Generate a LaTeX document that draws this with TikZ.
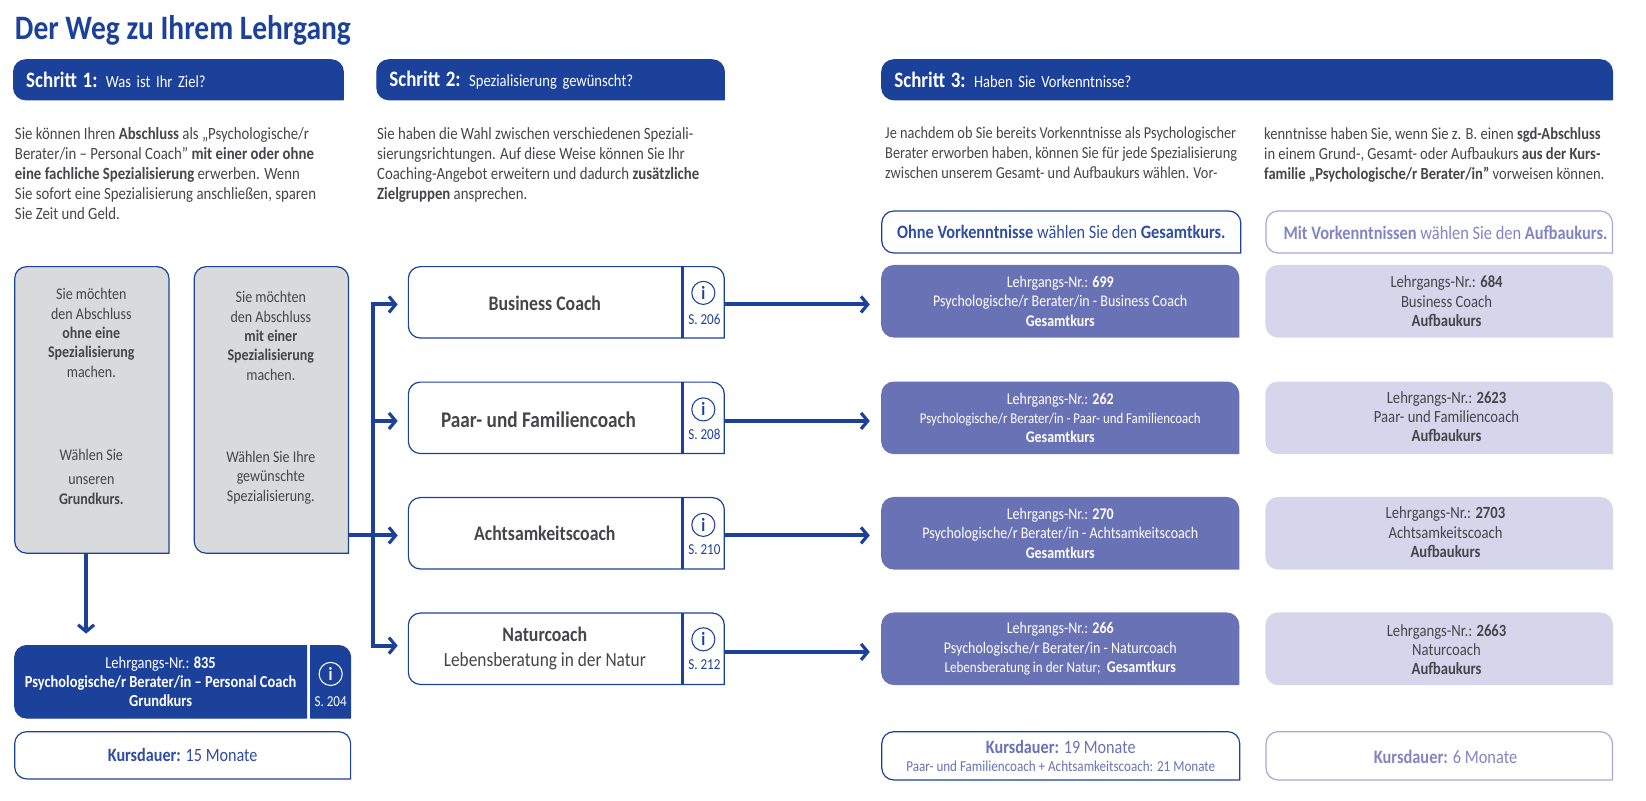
\documentclass[tikz,border=0pt]{standalone}
\usepackage{fontspec}
\setmainfont[FakeStretch=0.86]{Carlito}
\usepackage{tikz}
\usetikzlibrary{arrows.meta}
\newcommand{\px}{0.7873pt}
\newcommand{\fsz}[1]{\fontsize{#1}{#1}\selectfont}
\definecolor{sgdblue}{HTML}{1C419B}
\definecolor{sgdviolet}{HTML}{6A72B6}
\definecolor{sgdpale}{HTML}{D5D6EC}
\definecolor{sgdlilac}{HTML}{A7A9D8}
\definecolor{sgdmute}{HTML}{8285C4}
\definecolor{sgdgrey}{HTML}{D9DADC}
\definecolor{sgdtext}{HTML}{46464A}
\tikzset{
  wh/.style 2 args={minimum width=#1*\px,minimum height=#2*\px},
  tile/.style n args={6}{append after command={\pgfextra{
    \draw[draw=#1,fill=#2,line width=0.9pt,line join=miter] (\tikzlastnode.south)
      [rounded corners=#6] -- (\tikzlastnode.south west)
      [rounded corners=#3] -- (\tikzlastnode.north west)
      [rounded corners=#4] -- (\tikzlastnode.north east)
      [rounded corners=#5] -- (\tikzlastnode.south east)
      [sharp corners] -- cycle;
  }}},
  tab/.style 2 args={tile={#1}{#2}{9pt}{9pt}{0.01pt}{9pt}},
  panel/.style={anchor=north west,rectangle,inner sep=0pt,outer sep=0pt,align=center},
  head/.style={panel,tab={sgdblue}{sgdblue},text=white,align=left,
    text width=#1*\px-24*\px,inner xsep=12*\px,minimum height=38*\px,font=\fontsize{12.7}{14}\selectfont},
  body/.style={anchor=north west,inner sep=0pt,align=left,text=sgdtext,font=\fontsize{12.9}{15}\selectfont},
  askbox/.style={panel,tab={sgdblue}{sgdgrey},wh={147}{273}},
  asktext/.style={inner sep=0pt,align=center,text=sgdtext,font=\fontsize{12.2}{14.5}\selectfont},
  coach/.style={panel,tab={sgdblue}{white},wh={301}{68}},
  coachtext/.style={inner sep=0pt,align=center,text=sgdtext,font=\fontsize{15.5}{18}\selectfont},
  infoicon/.style={circle,draw=sgdblue,line width=0.8pt,inner sep=0pt,minimum size=22*\px,text=sgdblue,font=\bfseries\fontsize{14}{14}\selectfont},
  pagenr/.style={inner sep=0pt,text=sgdblue,font=\fontsize{11.4}{12}\selectfont},
  gesamt/.style={panel,tab={sgdviolet}{sgdviolet},wh={340}{68},text=white,font=\fontsize{12.2}{14.5}\selectfont},
  aufbau/.style={panel,tab={sgdpale}{sgdpale},wh={330}{68}},
  aufbautext/.style={inner sep=0pt,align=center,text=sgdtext,font=\fontsize{12.8}{14.5}\selectfont},
  mutetext/.style={inner sep=0pt,align=center,text=sgdmute,font=\fontsize{14.3}{16}\selectfont},
  flow/.style={draw=sgdblue,line width=3pt,-{Straight Barb[length=5pt,width=12pt,line width=2.4pt]}},
  trunk/.style={draw=sgdblue,line width=3pt,line cap=rect},
  divider/.style={draw=sgdblue,line width=2.4pt}
}
\begin{document}
\begin{tikzpicture}[x=0.7873pt,y=-0.7873pt]
  \useasboundingbox (0,0) rectangle (1568,763);

  \node[anchor=west,inner sep=0pt,text=sgdblue,font=\bfseries\fontsize{25.7}{30}\selectfont] (title) at (14,29) {Der Weg zu Ihrem Lehrgang};

  % step headers
  \node[head=314] (head1) at (13,57) {{\bfseries\fsz{16.5}Schritt 1:} Was ist Ihr Ziel?};
  \node[head=331] (head2) at (359,57) {{\bfseries\fsz{16.5}Schritt 2:} Spezialisierung gewünscht?};
  \node[head=696] (head3) at (840,57) {{\bfseries\fsz{16.5}Schritt 3:} Haben Sie Vorkenntnisse?};

  % intro texts
  \node[body] (intro1) at (14,121) {Sie können Ihren \textbf{Abschluss} als „Psychologische/r\\
    Berater/in – Personal Coach" \textbf{mit einer oder ohne}\\
    \textbf{eine fachliche Spezialisierung} erwerben. Wenn\\
    Sie sofort eine Spezialisierung anschließen, sparen\\
    Sie Zeit und Geld.};
  \node[body] (intro2) at (359,121) {Sie haben die Wahl zwischen verschiedenen Speziali-\\
    sierungsrichtungen. Auf diese Weise können Sie Ihr\\
    Coaching-Angebot erweitern und dadurch \textbf{zusätzliche}\\
    \textbf{Zielgruppen} ansprechen.};
  \node[body,font=\fontsize{12.5}{15}\selectfont] (intro3) at (843,121) {Je nachdem ob Sie bereits Vorkenntnisse als Psychologischer\\
    Berater erworben haben, können Sie für jede Spezialisierung\\
    zwischen unserem Gesamt- und Aufbaukurs wählen. Vor-};
  \node[body,font=\fontsize{12.7}{15}\selectfont] (intro4) at (1204,121) {kenntnisse haben Sie, wenn Sie z. B. einen \textbf{sgd-Abschluss}\\
    in einem Grund-, Gesamt- oder Aufbaukurs \textbf{aus der Kurs-}\\
    \textbf{familie „Psychologische/r Berater/in"} vorweisen können.};

  % column captions
  \node[panel,tab={sgdblue}{white},wh={342}{40},text=sgdblue!75!sgdviolet,font=\fontsize{14.2}{16}\selectfont] (ohnecap) at (840,201) {\textbf{Ohne Vorkenntnisse} wählen Sie den \textbf{Gesamtkurs.}};
  \node[panel,tab={sgdlilac}{white},wh={330}{40}] (mitcap) at (1206,201) {};
  \node[mutetext] (mittext) at (1377,222) {\textbf{Mit Vorkenntnissen} wählen Sie den \textbf{Aufbaukurs.}};

  % choice boxes
  \node[askbox] (ohne) at (14,254) {};
  \node[askbox] (mit) at (185,254) {};
  \node[asktext] (ohnetop) at (87,317) {Sie möchten\\den Abschluss\\\textbf{ohne eine}\\\textbf{Spezialisierung}\\machen.};
  \node[asktext] (ohnelow) at (87,454) {Wählen Sie\\[4pt]unseren\\\textbf{Grundkurs.}};
  \node[asktext] (mittop) at (258,320) {Sie möchten\\den Abschluss\\\textbf{mit einer}\\\textbf{Spezialisierung}\\machen.};
  \node[asktext] (mitlow) at (258,455) {Wählen Sie Ihre\\gewünschte\\Spezialisierung.};

  % basic course
  \node[panel,tile={sgdblue}{sgdblue}{9pt}{0.01pt}{0.01pt}{9pt},wh={278}{69},text=white,font=\fontsize{12.6}{14.5}\selectfont] (g835) at (14,615) {Lehrgangs-Nr.: \textbf{835}\\\textbf{Psychologische/r Berater/in – Personal Coach}\\\textbf{Grundkurs}};
  \node[panel,tile={sgdblue}{sgdblue}{0.01pt}{9pt}{0.01pt}{0.01pt},wh={38}{69}] (g835i) at (296,615) {};
  \node[infoicon,draw=white,text=white] (i204) at (315,642) {i};
  \node[pagenr,text=white] (s204) at (315,668) {S. 204};
  \node[panel,tab={sgdblue}{white},wh={320}{45},text=sgdblue!75!sgdviolet,font=\fontsize{14.1}{16}\selectfont] (dauer1) at (14,697) {\raisebox{-1.5pt}{\textbf{Kursdauer:} 15 Monate}};

  % specialisations
  \node[coach] (bc) at (389,254) {};
  \node[coachtext] (bctext) at (519,289) {\textbf{Business Coach}};
  \draw[divider] (bc.north west -| 650,0) -- (bc.south west -| 650,0);
  \node[infoicon] (i206) at (670,279) {i};
  \node[pagenr] (s206) at (671,304) {S. 206};

  \node[coach] (pf) at (389,364) {};
  \node[coachtext,font=\fontsize{16.8}{18}\selectfont] (pftext) at (513,400) {\textbf{Paar- und Familiencoach}};
  \draw[divider] (pf.north west -| 650,0) -- (pf.south west -| 650,0);
  \node[infoicon] (i208) at (670,390) {i};
  \node[pagenr] (s208) at (671,414) {S. 208};

  \node[coach] (ac) at (389,474) {};
  \node[coachtext] (actext) at (519,508) {\textbf{Achtsamkeitscoach}};
  \draw[divider] (ac.north west -| 650,0) -- (ac.south west -| 650,0);
  \node[infoicon] (i210) at (670,500) {i};
  \node[pagenr] (s210) at (671,524) {S. 210};

  \node[coach] (nc) at (389,584) {};
  \node[coachtext] (nctext) at (519,618) {\textbf{Naturcoach}\\[1pt]{\fsz{15.1}Lebensberatung in der Natur}};
  \draw[divider] (nc.north west -| 650,0) -- (nc.south west -| 650,0);
  \node[infoicon] (i212) at (670,609) {i};
  \node[pagenr] (s212) at (671,633) {S. 212};

  % full courses
  \node[gesamt] (g699) at (840,253) {Lehrgangs-Nr.: \textbf{699}\\Psychologische/r Berater/in - Business Coach\\\textbf{Gesamtkurs}};
  \node[gesamt] (g262) at (840,364) {Lehrgangs-Nr.: \textbf{262}\\{\fsz{11.2}Psychologische/r Berater/in - Paar- und Familiencoach}\\\textbf{Gesamtkurs}};
  \node[gesamt] (g270) at (840,474) {Lehrgangs-Nr.: \textbf{270}\\Psychologische/r Berater/in - Achtsamkeitscoach\\\textbf{Gesamtkurs}};
  \node[gesamt] (g266) at (840,584) {Lehrgangs-Nr.: \textbf{266}\\Psychologische/r Berater/in - Naturcoach\\{\fsz{11.4}Lebensberatung in der Natur;}\ \ \textbf{Gesamtkurs}};

  % advanced courses
  \node[aufbau] (a684) at (1206,253) {};
  \node[aufbautext] (a684text) at (1378,287) {Lehrgangs-Nr.: \textbf{684}\\Business Coach\\\textbf{Aufbaukurs}};
  \node[aufbau] (a2623) at (1206,364) {};
  \node[aufbautext] (a2623text) at (1378,397) {Lehrgangs-Nr.: \textbf{2623}\\Paar- und Familiencoach\\\textbf{Aufbaukurs}};
  \node[aufbau] (a2703) at (1206,474) {};
  \node[aufbautext] (a2703text) at (1377,507) {Lehrgangs-Nr.: \textbf{2703}\\Achtsamkeitscoach\\\textbf{Aufbaukurs}};
  \node[aufbau] (a2663) at (1206,584) {};
  \node[aufbautext] (a2663text) at (1378,619) {Lehrgangs-Nr.: \textbf{2663}\\Naturcoach\\\textbf{Aufbaukurs}};

  % durations
  \node[panel,tab={sgdblue}{white},wh={341}{46},text=sgdviolet,font=\fontsize{14.1}{14}\selectfont] (dauer2) at (840,697) {\textbf{Kursdauer:} 19 Monate\\{\fontsize{11.4}{12}\selectfont Paar- und Familiencoach + Achtsamkeitscoach: 21 Monate}};
  \node[panel,tab={sgdlilac}{white},wh={330}{46}] (dauer3) at (1206,697) {};
  \node[mutetext] (dauer3text) at (1377,721) {\textbf{Kursdauer:} 6 Monate};

  % connectors
  \coordinate (busa) at (355,290);
  \coordinate (busb) at (355,401);
  \coordinate (busc) at (355,510);
  \coordinate (busd) at (355,615);
  \draw[trunk] (busa) -- (busd);
  \draw[flow,shorten >=8pt] (busa) -- (busa -| bc.west);
  \draw[flow,shorten >=8pt] (busb) -- (busb -| pf.west);
  \draw[flow,shorten >=8pt] (mit.east |- busc) -- (busc -| ac.west);
  \draw[flow,shorten >=8pt] (busd) -- (busd -| nc.west);
  \draw[flow,shorten >=9pt] (ohne.south -| 82,0) -- (g835.north -| 82,0);

  \draw[flow,shorten >=9pt] (bc.east |- 0,290) -- (g699.west |- 0,290);
  \draw[flow,shorten >=9pt] (pf.east |- 0,401) -- (g262.west |- 0,401);
  \draw[flow,shorten >=9pt] (ac.east |- 0,510) -- (g270.west |- 0,510);
  \draw[flow,shorten >=9pt] (nc.east |- 0,621) -- (g266.west |- 0,621);
\end{tikzpicture}
\end{document}
